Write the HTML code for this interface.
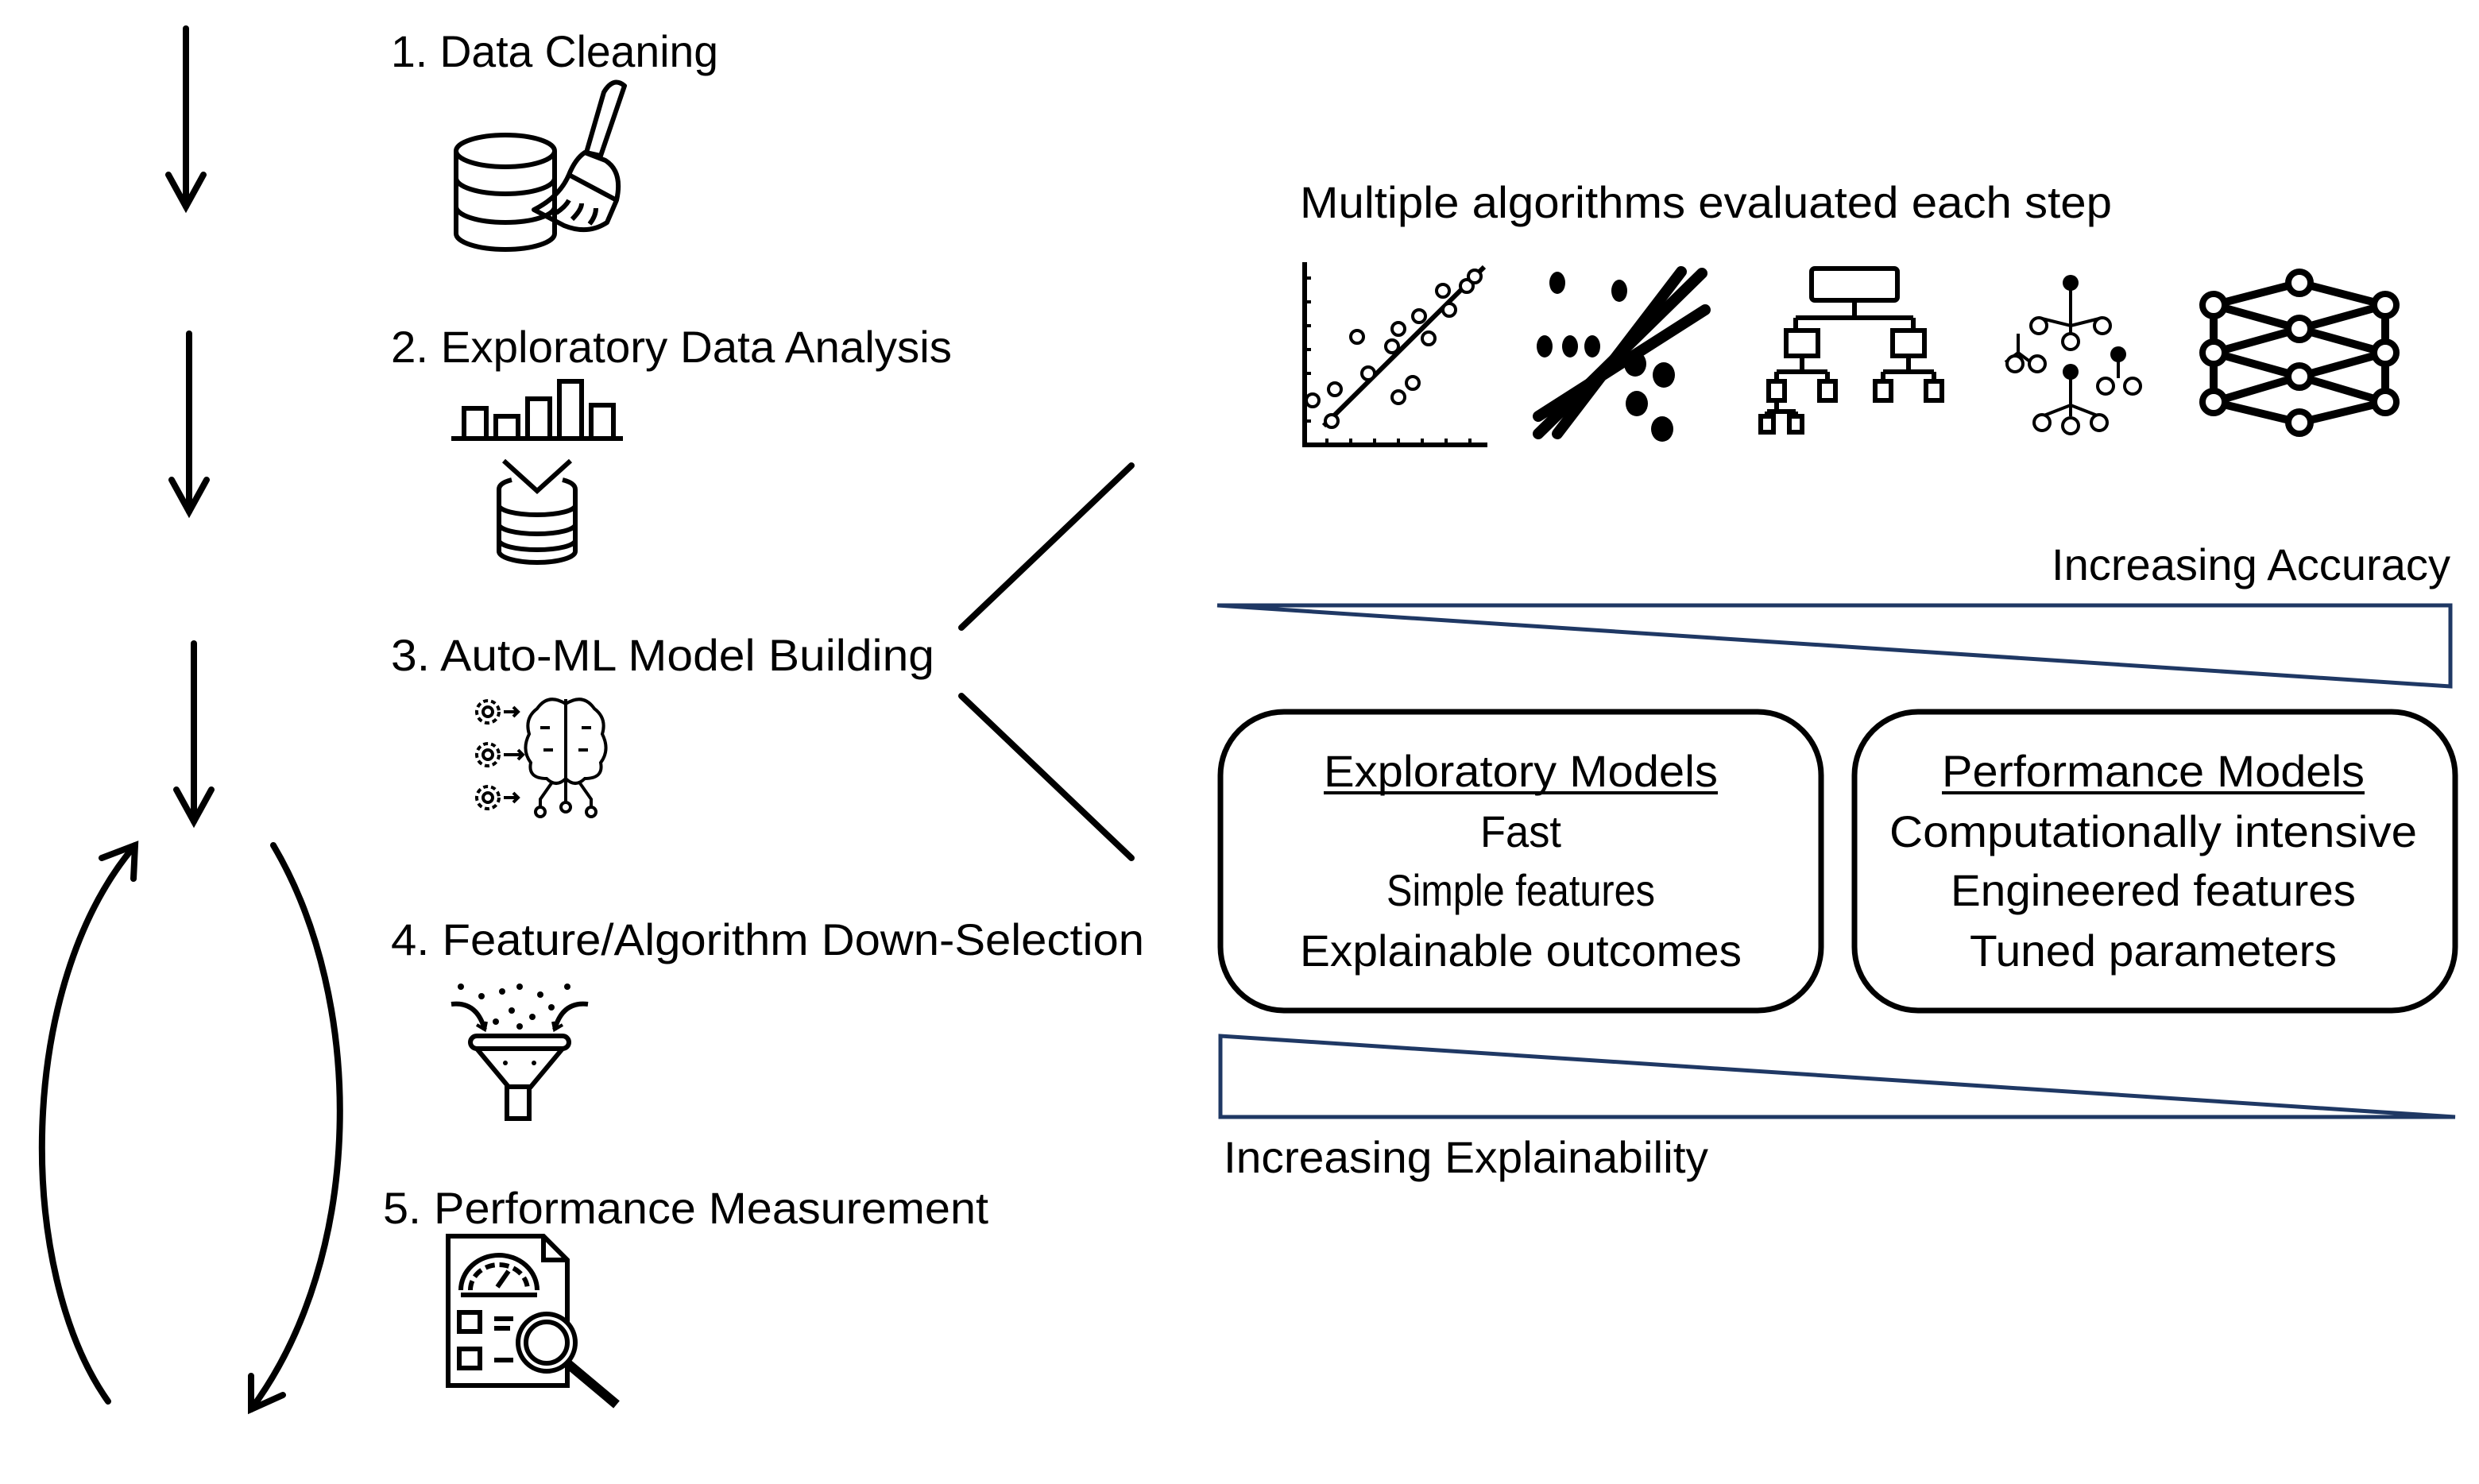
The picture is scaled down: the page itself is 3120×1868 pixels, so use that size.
<!DOCTYPE html>
<html><head><meta charset="utf-8"><style>
html,body{margin:0;padding:0;background:#fff;}
svg{display:block;}
text{font-family:"Liberation Sans",sans-serif;font-size:28px;fill:#000;}
</style></head><body>
<svg width="3120" height="1868" viewBox="0 0 1560 934" xmlns="http://www.w3.org/2000/svg">
<rect width="1560" height="934" fill="#fff"/>
<g stroke="#000" stroke-width="4" fill="none" stroke-linecap="round">
<line x1="117" y1="18" x2="117" y2="130"/><polyline points="106,110 117,130 128,110"/>
<line x1="119" y1="210" x2="119" y2="322"/><polyline points="108,302 119,322 130,302"/>
<line x1="122" y1="405" x2="122" y2="517"/><polyline points="111,497 122,517 133,497"/>
<path d="M68,882 C10,800 10,620 85,532"/><polyline points="64,540 85,532 84,553"/>
<path d="M172,532 C230,630 230,790 158,887"/><polyline points="158,866 158,887 178,878"/>
<line x1="605" y1="395" x2="712" y2="293"/>
<line x1="605" y1="438" x2="712" y2="540"/>
</g>
<g lengthAdjust="spacingAndGlyphs">
<text x="246" y="42" textLength="206" lengthAdjust="spacingAndGlyphs">1. Data Cleaning</text>
<text x="246" y="228" textLength="353" lengthAdjust="spacingAndGlyphs">2. Exploratory Data Analysis</text>
<text x="246" y="422" textLength="342" lengthAdjust="spacingAndGlyphs">3. Auto-ML Model Building</text>
<text x="246" y="601" textLength="474" lengthAdjust="spacingAndGlyphs">4. Feature/Algorithm Down-Selection</text>
<text x="241" y="770" textLength="381" lengthAdjust="spacingAndGlyphs">5. Performance Measurement</text>
<text x="818" y="137" textLength="511" lengthAdjust="spacingAndGlyphs">Multiple algorithms evaluated each step</text>
<text x="1291" y="365" textLength="251" lengthAdjust="spacingAndGlyphs">Increasing Accuracy</text>
<text x="770" y="738" textLength="305" lengthAdjust="spacingAndGlyphs">Increasing Explainability</text>
</g>

<!-- icon 1 database + broom -->
<g stroke="#000" stroke-width="3" fill="none" stroke-linejoin="round">
<ellipse cx="318" cy="95" rx="31" ry="10"/>
<path d="M287,95 V147 A31,10 0 0 0 349,147 V95"/>
<path d="M287,112 A31,10 0 0 0 349,112"/><path d="M287,130 A31,10 0 0 0 349,130"/>
<path d="M380,58 Q386,48 393,54 L378,98 L369,96 Z"/>
<path d="M368,96 L381,101 Q392,108 388,126 L382,140 Q370,148 355,142 L336,132 Q352,124 358,110 Q362,100 368,96 Z"/>
<path d="M358,110 L388,126 M350,134 Q356,130 358,126 M360,138 Q366,132 366,128 M371,141 Q375,136 375,131"/>
</g>
<!-- icon 2 -->
<g stroke="#000" stroke-width="3" fill="none">
<line x1="284" y1="276" x2="392" y2="276"/>
<rect x="292" y="257" width="14" height="19"/><rect x="312" y="262" width="14" height="14"/><rect x="332" y="251" width="14" height="25"/><rect x="352" y="240" width="14" height="36"/><rect x="372" y="255" width="14" height="21"/>
<polyline points="317,290 338,309 359,290"/>
<path d="M322,302 Q314,304 314,308 V347 A24,7 0 0 0 362,347 V308 Q362,304 354,302"/>
<path d="M314,318 A24,6 0 0 0 362,318"/><path d="M314,330 A24,6 0 0 0 362,330"/><path d="M314,340 A24,6 0 0 0 362,340"/>
</g>
<!-- icon 3 brain -->
<g stroke="#000" stroke-width="2" fill="none">
<g stroke-dasharray="3 2"><circle cx="307" cy="448" r="7"/><circle cx="307" cy="475" r="7"/><circle cx="307" cy="502" r="7"/></g>
<circle cx="307" cy="448" r="3"/><circle cx="307" cy="475" r="3"/><circle cx="307" cy="502" r="3"/>
<path d="M317,448 h9 M317,475 h12 M317,502 h9"/>
<path d="M323,445 l3,3 l-3,3 M326,472 l3,3 l-3,3 M323,499 l3,3 l-3,3"/>
<path d="M356,443 Q345,436 338,446 Q330,452 333,462 Q328,472 334,480 Q332,490 344,490 Q350,496 356,490 Z"/>
<path d="M356,443 Q367,436 374,446 Q382,452 379,462 Q384,472 378,480 Q380,490 368,490 Q362,496 356,490 Z"/>
<path d="M356,440 V505 M347,493 L340,503 V508 M365,493 L372,503 V508"/>
<path d="M340,458 h6 M342,472 h6 M366,458 h6 M364,472 h6"/>
<circle cx="356" cy="508" r="3"/><circle cx="340" cy="511" r="3"/><circle cx="372" cy="511" r="3"/>
</g>
<!-- icon 4 funnel -->
<g stroke="#000" stroke-width="3" fill="none">
<path d="M284,632 Q300,630 305,648 M370,632 Q354,630 349,648"/>
<path d="M300,645 l5,3 l1,-5 M354,645 l-5,3 l-1,-5" stroke-width="2"/>
<rect x="296" y="652" width="62" height="8" rx="4"/>
<polyline points="300,660 320,684 334,684 354,660"/>
<rect x="319" y="684" width="14" height="20"/>
</g>
<g fill="#000"><circle cx="290" cy="621" r="2"/><circle cx="303" cy="627" r="2"/><circle cx="316" cy="624" r="2"/><circle cx="327" cy="621" r="2"/><circle cx="340" cy="626" r="2"/><circle cx="357" cy="621" r="2"/><circle cx="322" cy="636" r="2"/><circle cx="335" cy="640" r="2"/><circle cx="347" cy="634" r="2"/><circle cx="312" cy="643" r="2"/><circle cx="327" cy="646" r="2"/><circle cx="318" cy="669" r="1.5"/><circle cx="336" cy="669" r="1.5"/></g>
<!-- icon 5 report -->
<g stroke="#000" stroke-width="3" fill="none">
<path d="M282,778 H342 L357,793 V872 H282 Z"/><path d="M342,778 V793 H357"/>
<path d="M290,812 A24,22 0 0 1 338,812"/><path d="M296,812 A18,16 0 0 1 332,812" stroke-dasharray="6 3"/><line x1="290" y1="815" x2="338" y2="815"/><line x1="313" y1="810" x2="320" y2="800"/>
<rect x="289" y="826" width="13" height="12"/><rect x="289" y="849" width="13" height="12"/>
<path d="M311,830 h12 M311,836 h10 M311,856 h12"/>
<circle cx="344" cy="845" r="18" fill="#fff"/><circle cx="344" cy="845" r="13"/><line x1="357" y1="858" x2="388" y2="884" stroke-width="6"/>
</g>

<!-- algorithm icons -->
<g stroke="#000" fill="none">
<path d="M821,165 V280 H936" stroke-width="3"/>
<path d="M821,175 h4 M821,190 h4 M821,205 h4 M821,220 h4 M821,235 h4 M821,250 h4 M821,265 h4 M835,280 v-4 M850,280 v-4 M865,280 v-4 M880,280 v-4 M895,280 v-4 M910,280 v-4 M925,280 v-4" stroke-width="2"/>
<line x1="833" y1="268" x2="934" y2="168" stroke-width="3"/>
<g stroke-width="2" fill="#fff"><circle cx="838" cy="265" r="4"/><circle cx="826" cy="252" r="4"/><circle cx="840" cy="245" r="4"/><circle cx="861" cy="235" r="4"/><circle cx="854" cy="212" r="4"/><circle cx="876" cy="218" r="4"/><circle cx="880" cy="207" r="4"/><circle cx="893" cy="199" r="4"/><circle cx="899" cy="213" r="4"/><circle cx="889" cy="241" r="4"/><circle cx="880" cy="250" r="4"/><circle cx="908" cy="183" r="4"/><circle cx="912" cy="195" r="4"/><circle cx="923" cy="180" r="4"/><circle cx="928" cy="174" r="4"/></g>
<g stroke-width="7" stroke-linecap="round"><line x1="968" y1="273" x2="1071" y2="172"/><line x1="980" y1="273" x2="1058" y2="171"/><line x1="968" y1="262" x2="1073" y2="195"/></g>
<g fill="#000" stroke="none">
<ellipse cx="980" cy="178" rx="5" ry="7"/><ellipse cx="1019" cy="183" rx="5" ry="7"/><ellipse cx="988" cy="218" rx="5" ry="7"/><ellipse cx="972" cy="218" rx="5" ry="7"/><ellipse cx="1002" cy="218" rx="5" ry="7"/>
<ellipse cx="1029" cy="229" rx="7" ry="8"/><ellipse cx="1047" cy="236" rx="7" ry="8"/><ellipse cx="1030" cy="254" rx="7" ry="8"/><ellipse cx="1046" cy="270" rx="7" ry="8"/>
</g>
<g stroke-width="3"><rect x="1140" y="169" width="54" height="20" rx="2"/><path d="M1167,189 V200 M1130,200 H1204 M1130,200 V208 M1204,200 V208"/>
<rect x="1124" y="208" width="20" height="16"/><rect x="1191" y="208" width="20" height="16"/>
<path d="M1134,224 V234 M1118,234 H1150 M1201,224 V234 M1185,234 H1217 M1118,234 V240 M1150,234 V240 M1185,234 V240 M1217,234 V240"/>
<rect x="1113" y="240" width="10" height="12"/><rect x="1145" y="240" width="10" height="12"/><rect x="1180" y="240" width="10" height="12"/><rect x="1212" y="240" width="10" height="12"/>
<path d="M1118,252 V259 M1112,259 H1130 M1112,259 V262 M1130,259 V262"/><rect x="1108" y="262" width="8" height="10"/><rect x="1126" y="262" width="8" height="10"/></g>
<g stroke-width="2"><path d="M1303,180 V205 L1283,200 M1303,205 L1323,200 M1303,205 V210 M1270,210 V222 M1262,228 L1270,222 L1278,228"/>
<circle cx="1283" cy="205" r="5" fill="#fff"/><circle cx="1323" cy="205" r="5" fill="#fff"/><circle cx="1303" cy="215" r="5" fill="#fff"/>
<circle cx="1268" cy="229" r="5" fill="#fff"/><circle cx="1282" cy="229" r="5" fill="#fff"/>
<path d="M1303,236 V255 L1285,262 M1303,255 L1321,262 M1303,255 V262 M1333,224 V238"/>
<circle cx="1285" cy="266" r="5" fill="#fff"/><circle cx="1321" cy="266" r="5" fill="#fff"/><circle cx="1303" cy="268" r="5" fill="#fff"/>
<circle cx="1325" cy="243" r="5" fill="#fff"/><circle cx="1342" cy="243" r="5" fill="#fff"/></g>
<g fill="#000" stroke="none"><circle cx="1303" cy="178" r="5"/><circle cx="1333" cy="223" r="5"/><circle cx="1303" cy="234" r="5"/></g>
<g stroke-width="5"><path d="M1393,192 L1447,178 L1501,192 M1393,192 L1447,207 L1501,192 M1393,192 V253 M1501,192 V253 M1393,222 L1447,207 L1501,222 M1393,222 L1447,237 L1501,222 M1393,253 L1447,237 L1501,253 M1393,253 L1447,266 L1501,253"/>
<g fill="#fff" stroke-width="4"><circle cx="1447" cy="178" r="7"/><circle cx="1393" cy="192" r="7"/><circle cx="1501" cy="192" r="7"/><circle cx="1447" cy="207" r="7"/><circle cx="1393" cy="222" r="7"/><circle cx="1501" cy="222" r="7"/><circle cx="1447" cy="237" r="7"/><circle cx="1393" cy="253" r="7"/><circle cx="1501" cy="253" r="7"/><circle cx="1447" cy="266" r="7"/></g></g>
</g>

<polygon points="766,381 1542,381 1542,432" fill="none" stroke="#1f3864" stroke-width="2.5"/>
<polygon points="768,652 768,703 1545,703" fill="none" stroke="#1f3864" stroke-width="2.5"/>
<rect x="768" y="448" width="378" height="188" rx="40" fill="none" stroke="#000" stroke-width="3.5"/>
<rect x="1167" y="448" width="378" height="188" rx="40" fill="none" stroke="#000" stroke-width="3.5"/>
<g text-anchor="middle">
<text x="957" y="495" textLength="248" lengthAdjust="spacingAndGlyphs">Exploratory Models</text>
<text x="957" y="533" textLength="51" lengthAdjust="spacingAndGlyphs">Fast</text>
<text x="957" y="570" textLength="169" lengthAdjust="spacingAndGlyphs">Simple features</text>
<text x="957" y="608" textLength="278" lengthAdjust="spacingAndGlyphs">Explainable outcomes</text>
<text x="1355" y="495" textLength="266" lengthAdjust="spacingAndGlyphs">Performance Models</text>
<text x="1355" y="533" textLength="332" lengthAdjust="spacingAndGlyphs">Computationally intensive</text>
<text x="1355" y="570" textLength="255" lengthAdjust="spacingAndGlyphs">Engineered features</text>
<text x="1355" y="608" textLength="231" lengthAdjust="spacingAndGlyphs">Tuned parameters</text>
</g>
<line x1="833" y1="499" x2="1081" y2="499" stroke="#000" stroke-width="2"/>
<line x1="1222" y1="499" x2="1488" y2="499" stroke="#000" stroke-width="2"/>
</svg>
</body></html>
